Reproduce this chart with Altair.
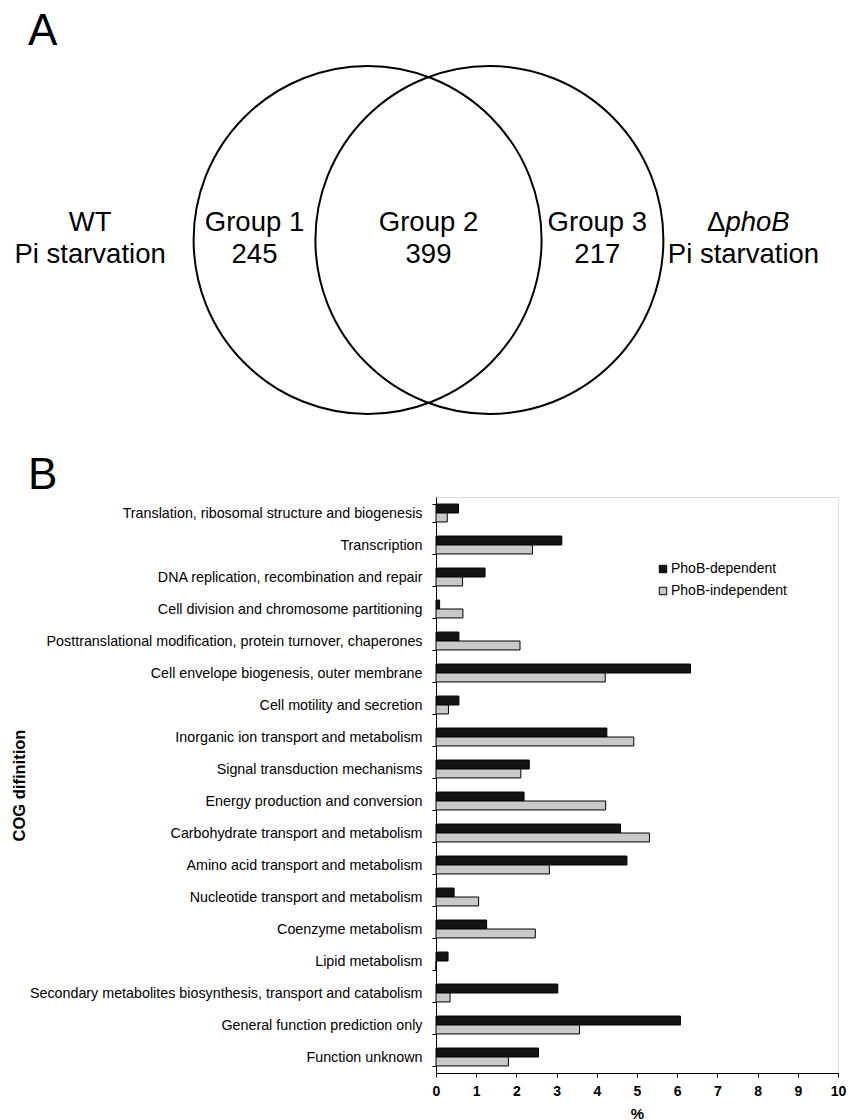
import altair as alt
import pandas as pd

# ---------------- data ----------------
categories = [
    "Translation, ribosomal structure and biogenesis",
    "Transcription",
    "DNA replication, recombination and repair",
    "Cell division and chromosome partitioning",
    "Posttranslational modification, protein turnover, chaperones",
    "Cell envelope biogenesis, outer membrane",
    "Cell motility and secretion",
    "Inorganic ion transport and metabolism",
    "Signal transduction mechanisms",
    "Energy production and conversion",
    "Carbohydrate transport and metabolism",
    "Amino acid transport and metabolism",
    "Nucleotide transport and metabolism",
    "Coenzyme metabolism",
    "Lipid metabolism",
    "Secondary metabolites biosynthesis, transport and catabolism",
    "General function prediction only",
    "Function unknown",
]
phob_dependent = [0.56, 3.13, 1.22, 0.09, 0.57, 6.33, 0.57, 4.25, 2.32, 2.19,
                  4.59, 4.75, 0.45, 1.26, 0.30, 3.03, 6.08, 2.55]
phob_independent = [0.28, 2.40, 0.66, 0.67, 2.09, 4.21, 0.31, 4.92, 2.11, 4.22,
                    5.31, 2.82, 1.06, 2.47, 0.0, 0.35, 3.57, 1.80]
series = ["PhoB-dependent", "PhoB-independent"]
x_ticks = list(range(0, 11))

venn_groups = ["Group 1", "Group 2", "Group 3"]
venn_counts = ["245", "399", "217"]
venn_condition_left = ["WT", "Pi starvation"]
venn_condition_right = ["\u0394", "phoB", "Pi starvation"]
panel_letters = ["A", "B"]

FONT = "Liberation Sans"

# ---------------- layout constants ----------------
PLOT_LEFT, PLOT_TOP = 436, 497
PLOT_W, PLOT_H = 402, 576
VENN_CX, VENN_CY = 428.5, 240      # page position of the Venn centre
VENN_RX, VENN_RY = 174, 175        # pixels per Venn unit (one unit = circle radius)
CIRCLE_OFFSET = 0.35               # circle centre offset, in radii
LINE1, LINE2 = 0.10, -0.088        # two text lines, in Venn units


def vx(field):
    return alt.X(field, type="quantitative", axis=None,
                 scale=alt.Scale(domain=[-1, 1], nice=False, zero=False,
                                 range=[VENN_CX - VENN_RX - PLOT_LEFT,
                                        VENN_CX + VENN_RX - PLOT_LEFT]))


def vy(field):
    return alt.Y(field, type="quantitative", axis=None,
                 scale=alt.Scale(domain=[-1, 1], nice=False, zero=False,
                                 range=[VENN_CY + VENN_RY - PLOT_TOP,
                                        VENN_CY - VENN_RY - PLOT_TOP]))


# ---------------- bar chart (panel B) ----------------
bars_df = pd.DataFrame({
    "category": categories * 2,
    "series": [series[0]] * len(categories) + [series[1]] * len(categories),
    "value": phob_dependent + phob_independent,
})

bars = alt.Chart(bars_df).mark_bar(stroke="black", strokeWidth=1).encode(
    x=alt.X("value:Q",
            scale=alt.Scale(domain=[0, 10], nice=False),
            axis=alt.Axis(values=x_ticks, title="%", format="d", grid=False,
                          titleFontSize=15, titleFontWeight="bold", titleFont=FONT,
                          titlePadding=8, labelFontSize=14, labelFontWeight="bold",
                          labelFont=FONT, labelColor="black", labelPadding=7,
                          labelFlush=False, tickSize=4, tickColor="black",
                          domainColor="black", titleColor="black")),
    y=alt.Y("category:N", sort=categories,
            scale=alt.Scale(paddingInner=0.44, paddingOuter=0.22),
            axis=alt.Axis(title="COG difinition", titleFontSize=16.5,
                          titleFontWeight="bold", titleFont=FONT, titleColor="black",
                          titleX=19 - PLOT_LEFT, titleY=PLOT_H / 2, titleAngle=270,
                          titleAlign="center", titleBaseline="middle",
                          labelFontSize=14.3, labelFont=FONT,
                          labelColor="black", labelLimit=600, labelPadding=10,
                          tickSize=4, tickColor="black", tickBand="extent",
                          domainColor="black", grid=False)),
    yOffset=alt.YOffset("series:N", sort=series,
                        scale=alt.Scale(paddingInner=0, paddingOuter=0)),
    color=alt.Color("series:N",
                    scale=alt.Scale(domain=series, range=["#141414", "#c9c9c9"]),
                    legend=alt.Legend(title=None, orient="none", legendX=220,
                                      legendY=65, symbolType="square",
                                      symbolSize=55, symbolStrokeColor="black",
                                      symbolStrokeWidth=1, labelFontSize=14,
                                      labelFont=FONT, labelColor="black",
                                      rowPadding=8, labelOffset=1)),
)

# ---------------- Venn diagram (panel A) ----------------
circles_df = pd.DataFrame({
    "cx": [-CIRCLE_OFFSET, CIRCLE_OFFSET],
    "cy": [0.0, 0.0],
})
circles = alt.Chart(circles_df).mark_point(
    shape="circle", filled=False, stroke="black", strokeWidth=2,
    size=(2 * VENN_RX) ** 2, opacity=1,
).encode(x=vx("cx"), y=vy("cy"))

# label of each region: middle of the left crescent, centre, middle of the right crescent
crescent_mid = ((1 + CIRCLE_OFFSET) + (1 - CIRCLE_OFFSET)) / 2
group_x = [-crescent_mid, 0.0, crescent_mid - 0.03]
left_label_x = -1.945
right_label_x = 1.81

text_rows = []
for gx, name, count in zip(group_x, venn_groups, venn_counts):
    text_rows.append({"x": gx, "y": LINE1, "text": name})
    text_rows.append({"x": gx, "y": LINE2, "text": count})
text_rows.append({"x": left_label_x, "y": LINE1, "text": venn_condition_left[0]})
text_rows.append({"x": left_label_x, "y": LINE2, "text": venn_condition_left[1]})
text_rows.append({"x": right_label_x, "y": LINE2, "text": venn_condition_right[2]})
venn_text_df = pd.DataFrame(text_rows)

venn_text = alt.Chart(venn_text_df).mark_text(
    font=FONT, fontSize=27.5, color="black", align="center", baseline="middle",
).encode(x=vx("x"), y=vy("y"), text="text:N")

delta_df = pd.DataFrame({"x": [right_label_x], "y": [LINE1], "text": [venn_condition_right[0]]})
delta_text = alt.Chart(delta_df).mark_text(
    font=FONT, fontSize=27.5, color="black", align="right", baseline="middle", dx=-18,
).encode(x=vx("x"), y=vy("y"), text="text:N")

phob_df = pd.DataFrame({"x": [right_label_x], "y": [LINE1], "text": [venn_condition_right[1]]})
phob_text = alt.Chart(phob_df).mark_text(
    font=FONT, fontSize=27.5, color="black", align="left", baseline="middle",
    fontStyle="italic", dx=-18,
).encode(x=vx("x"), y=vy("y"), text="text:N")

# ---------------- panel letters ----------------
letter_a = alt.Chart(pd.DataFrame({"t": [panel_letters[0]]})).mark_text(
    font=FONT, fontSize=44, color="black", align="left", baseline="alphabetic",
).encode(x=alt.value(28 - PLOT_LEFT), y=alt.value(45 - PLOT_TOP), text="t:N")
letter_b = alt.Chart(pd.DataFrame({"t": [panel_letters[1]]})).mark_text(
    font=FONT, fontSize=44, color="black", align="left", baseline="alphabetic",
).encode(x=alt.value(28 - PLOT_LEFT), y=alt.value(489 - PLOT_TOP), text="t:N")

chart = alt.layer(
    bars, circles, venn_text, delta_text, phob_text, letter_a, letter_b
).resolve_scale(
    x="independent", y="independent"
).properties(
    width=PLOT_W, height=PLOT_H,
    autosize=alt.AutoSizeParams(type="none"),
    padding={"left": PLOT_LEFT, "top": PLOT_TOP,
             "right": 850 - PLOT_LEFT - PLOT_W,
             "bottom": 1120 - PLOT_TOP - PLOT_H},
    background="white",
).configure_view(
    stroke="black", strokeWidth=1.2
).configure(
    font=FONT
)

chart.save("out.html", embed_options={"renderer": "svg", "actions": False})
